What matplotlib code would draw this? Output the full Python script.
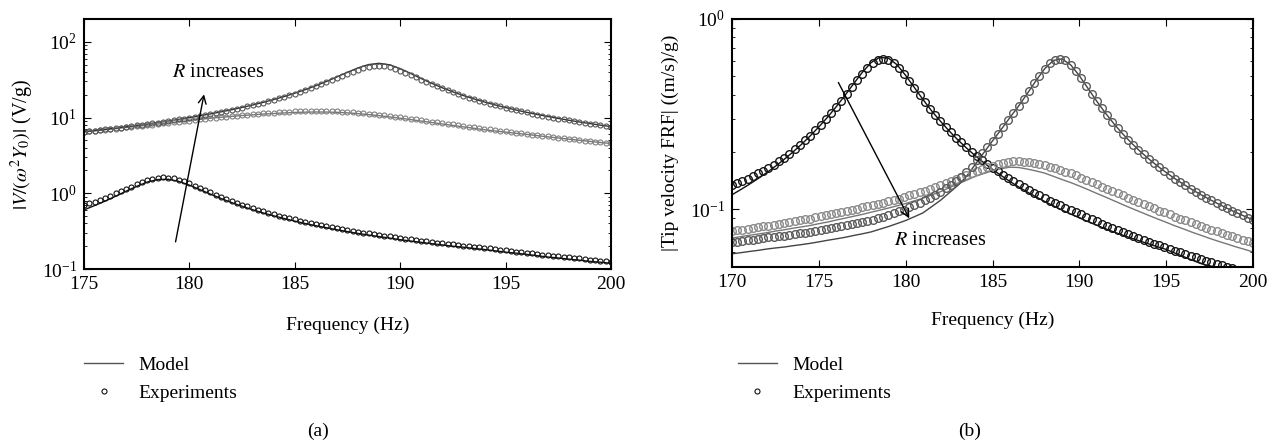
import numpy as np
import matplotlib
matplotlib.use('Agg')
import matplotlib.pyplot as plt
from matplotlib.lines import Line2D

plt.rcParams['font.family'] = ['Liberation Serif', 'DejaVu Serif']
plt.rcParams['mathtext.fontset'] = 'stix'
plt.rcParams['font.size'] = 14

# ---------------- panel (a) data ----------------
freq_a_exp = np.linspace(175, 200, 101)   # 0.25 Hz steps
freq_a_mod = np.linspace(175, 200, 51)    # 0.5 Hz steps

# lowest R
a_exp_r1 = [0.693, 0.733, 0.776, 0.823, 0.876, 0.934, 0.998, 1.069, 1.146, 1.227,
            1.313, 1.399, 1.480, 1.549, 1.598, 1.619, 1.610, 1.571, 1.510, 1.432,
            1.348, 1.262, 1.178, 1.099, 1.026, 0.959, 0.899, 0.844, 0.794, 0.749,
            0.709, 0.672, 0.638, 0.607, 0.579, 0.554, 0.530, 0.508, 0.488, 0.469,
            0.452, 0.435, 0.420, 0.406, 0.393, 0.380, 0.369, 0.358, 0.347, 0.338,
            0.328, 0.319, 0.311, 0.303, 0.296, 0.288, 0.282, 0.275, 0.269, 0.263,
            0.257, 0.252, 0.246, 0.241, 0.237, 0.232, 0.227, 0.223, 0.219, 0.215,
            0.211, 0.207, 0.204, 0.200, 0.197, 0.194, 0.191, 0.187, 0.183, 0.180,
            0.176, 0.173, 0.170, 0.167, 0.164, 0.161, 0.158, 0.155, 0.152, 0.150,
            0.147, 0.145, 0.142, 0.140, 0.138, 0.135, 0.133, 0.131, 0.129, 0.127,
            0.125]
a_mod_r1 = [0.603, 0.687, 0.788, 0.913, 1.066, 1.234, 1.406, 1.518, 1.530, 1.435,
            1.281, 1.119, 0.975, 0.854, 0.754, 0.674, 0.606, 0.550, 0.504, 0.464,
            0.429, 0.399, 0.373, 0.351, 0.330, 0.312, 0.295, 0.281, 0.268, 0.256,
            0.244, 0.234, 0.225, 0.216, 0.208, 0.200, 0.194, 0.187, 0.181, 0.174,
            0.167, 0.162, 0.156, 0.150, 0.144, 0.140, 0.135, 0.131, 0.126, 0.123,
            0.119]

# middle R
a_exp_r2 = [6.47, 6.57, 6.68, 6.79, 6.90, 7.02, 7.14, 7.26, 7.39, 7.52,
            7.65, 7.78, 7.92, 8.06, 8.21, 8.35, 8.50, 8.66, 8.81, 8.97,
            9.13, 9.30, 9.46, 9.63, 9.79, 9.96, 10.13, 10.30, 10.46, 10.63,
            10.79, 10.94, 11.09, 11.24, 11.38, 11.52, 11.64, 11.75, 11.86, 11.95,
            12.02, 12.09, 12.14, 12.18, 12.20, 12.20, 12.18, 12.14, 12.08, 11.99,
            11.88, 11.76, 11.61, 11.46, 11.28, 11.10, 10.91, 10.71, 10.51, 10.30,
            10.10, 9.89, 9.68, 9.47, 9.26, 9.06, 8.86, 8.67, 8.47, 8.29,
            8.11, 7.93, 7.76, 7.59, 7.43, 7.27, 7.11, 6.97, 6.82, 6.68,
            6.55, 6.42, 6.29, 6.17, 6.05, 5.94, 5.83, 5.72, 5.62, 5.52,
            5.42, 5.32, 5.23, 5.14, 5.06, 4.97, 4.89, 4.81, 4.73, 4.66,
            4.59]
a_mod_r2 = [6.47, 6.68, 6.90, 7.14, 7.39, 7.65, 7.92, 8.21, 8.50, 8.81,
            9.13, 9.46, 9.79, 10.08, 10.36, 10.63, 10.87, 11.10, 11.29, 11.50,
            11.66, 11.78, 11.83, 11.81, 11.72, 11.52, 11.26, 10.94, 10.58, 10.19,
            9.80, 9.39, 8.98, 8.59, 8.22, 7.87, 7.53, 7.21, 6.90, 6.65,
            6.42, 6.20, 5.99, 5.77, 5.56, 5.37, 5.18, 5.01, 4.84, 4.68,
            4.54]

# highest R
a_exp_r3 = [6.48, 6.59, 6.71, 6.84, 6.97, 7.10, 7.24, 7.38, 7.53, 7.69,
            7.85, 8.02, 8.20, 8.38, 8.58, 8.78, 8.99, 9.21, 9.45, 9.69,
            9.95, 10.22, 10.51, 10.81, 11.13, 11.47, 11.83, 12.21, 12.62, 13.05,
            13.51, 14.01, 14.54, 15.11, 15.72, 16.39, 17.11, 17.88, 18.73, 19.65,
            20.65, 21.76, 22.97, 24.29, 25.75, 27.35, 29.11, 31.03, 33.13, 35.37,
            37.74, 40.13, 42.52, 44.65, 46.43, 47.59, 48.00, 47.52, 46.16, 44.14,
            41.71, 39.10, 36.49, 33.99, 31.66, 29.52, 27.58, 25.82, 24.24, 22.81,
            21.52, 20.35, 19.29, 18.32, 17.44, 16.64, 15.90, 15.22, 14.59, 14.01,
            13.48, 12.98, 12.51, 12.08, 11.67, 11.29, 10.94, 10.60, 10.29, 9.99,
            9.71, 9.44, 9.19, 8.95, 8.72, 8.50, 8.30, 8.10, 7.91, 7.73,
            7.56]
a_mod_r3 = [6.49, 6.72, 6.98, 7.25, 7.55, 7.87, 8.22, 8.60, 9.01, 9.47,
            9.98, 10.54, 11.17, 11.88, 12.68, 13.59, 14.64, 15.85, 17.26, 18.94,
            20.94, 23.36, 26.31, 29.94, 34.35, 39.58, 45.21, 50.02, 52.00, 49.69,
            44.25, 38.16, 32.73, 28.28, 24.71, 21.84, 19.52, 17.61, 16.03, 14.69,
            13.55, 12.58, 11.72, 10.98, 10.32, 9.74, 9.21, 8.74, 8.32, 7.93,
            7.58]

# ---------------- panel (b) data ----------------
freq_b_exp = np.linspace(170, 200, 101)   # 0.3 Hz steps
freq_b_mod = np.linspace(170, 200, 61)    # 0.5 Hz steps

b_exp_r1 = [0.1336, 0.1371, 0.1409, 0.1450, 0.1495, 0.1544, 0.1597, 0.1656, 0.1719, 0.1790,
            0.1867, 0.1961, 0.2063, 0.2177, 0.2302, 0.2442, 0.2598, 0.2773, 0.2969, 0.3189,
            0.3439, 0.3719, 0.4034, 0.4384, 0.4762, 0.5158, 0.5546, 0.5882, 0.6116, 0.6200,
            0.6111, 0.5865, 0.5514, 0.5113, 0.4707, 0.4322, 0.3969, 0.3653, 0.3372, 0.3124,
            0.2905, 0.2711, 0.2538, 0.2385, 0.2247, 0.2124, 0.2012, 0.1911, 0.1820, 0.1736,
            0.1659, 0.1589, 0.1524, 0.1464, 0.1409, 0.1357, 0.1309, 0.1265, 0.1223, 0.1183,
            0.1147, 0.1112, 0.1079, 0.1048, 0.1019, 0.0992, 0.0966, 0.0940, 0.0913, 0.0889,
            0.0865, 0.0842, 0.0820, 0.0799, 0.0780, 0.0761, 0.0742, 0.0725, 0.0708, 0.0692,
            0.0676, 0.0661, 0.0647, 0.0633, 0.0620, 0.0607, 0.0595, 0.0583, 0.0571, 0.0560,
            0.0549, 0.0538, 0.0528, 0.0518, 0.0509, 0.0499, 0.0490, 0.0482, 0.0473, 0.0465,
            0.0457]
b_mod_r1 = [0.1193, 0.1270, 0.1355, 0.1451, 0.1560, 0.1685, 0.1830, 0.1998, 0.2195, 0.2430,
            0.2712, 0.3048, 0.3460, 0.3965, 0.4568, 0.5241, 0.5894, 0.6286, 0.6233, 0.5752,
            0.5052, 0.4365, 0.3773, 0.3286, 0.2905, 0.2584, 0.2319, 0.2101, 0.1915, 0.1757,
            0.1622, 0.1505, 0.1402, 0.1313, 0.1234, 0.1164, 0.1101, 0.1044, 0.0992, 0.0945,
            0.0902, 0.0862, 0.0825, 0.0792, 0.0760, 0.0732, 0.0706, 0.0681, 0.0658, 0.0636,
            0.0616, 0.0589, 0.0565, 0.0541, 0.0519, 0.0504, 0.0489, 0.0475, 0.0462, 0.0449,
            0.0437]

b_exp_r2 = [0.0769, 0.0776, 0.0783, 0.0793, 0.0800, 0.0807, 0.0815, 0.0822, 0.0832, 0.0839,
            0.0849, 0.0857, 0.0867, 0.0875, 0.0885, 0.0895, 0.0908, 0.0918, 0.0931, 0.0942,
            0.0955, 0.0968, 0.0982, 0.0995, 0.1009, 0.1023, 0.1038, 0.1054, 0.1072, 0.1086,
            0.1104, 0.1122, 0.1140, 0.1161, 0.1183, 0.1205, 0.1227, 0.1253, 0.1285, 0.1315,
            0.1346, 0.1380, 0.1413, 0.1449, 0.1483, 0.1521, 0.1560, 0.1596, 0.1629, 0.1663,
            0.1698, 0.1722, 0.1750, 0.1778, 0.1795, 0.1795, 0.1782, 0.1766, 0.1750, 0.1726,
            0.1710, 0.1679, 0.1644, 0.1614, 0.1581, 0.1545, 0.1507, 0.1469, 0.1429, 0.1393,
            0.1355, 0.1318, 0.1285, 0.1250, 0.1216, 0.1183, 0.1153, 0.1122, 0.1094, 0.1064,
            0.1038, 0.1012, 0.0986, 0.0964, 0.0940, 0.0916, 0.0895, 0.0875, 0.0855, 0.0836,
            0.0817, 0.0800, 0.0782, 0.0766, 0.0750, 0.0735, 0.0721, 0.0706, 0.0693, 0.0679,
            0.0667]
b_mod_r2 = [0.0707, 0.0719, 0.0731, 0.0742, 0.0754, 0.0769, 0.0781, 0.0796, 0.0809, 0.0823,
            0.0841, 0.0858, 0.0879, 0.0899, 0.0920, 0.0941, 0.0966, 0.0990, 0.1016, 0.1044,
            0.1074, 0.1109, 0.1145, 0.1190, 0.1238, 0.1298, 0.1357, 0.1422, 0.1490, 0.1543,
            0.1596, 0.1636, 0.1666, 0.1660, 0.1628, 0.1592, 0.1551, 0.1492, 0.1435, 0.1383,
            0.1327, 0.1270, 0.1213, 0.1161, 0.1109, 0.1059, 0.1013, 0.0970, 0.0929, 0.0891,
            0.0855, 0.0820, 0.0789, 0.0758, 0.0731, 0.0704, 0.0680, 0.0658, 0.0636, 0.0617,
            0.0597]

b_exp_r3 = [0.0671, 0.0678, 0.0682, 0.0689, 0.0693, 0.0700, 0.0706, 0.0713, 0.0719, 0.0724,
            0.0729, 0.0736, 0.0741, 0.0748, 0.0755, 0.0762, 0.0771, 0.0780, 0.0787, 0.0796,
            0.0805, 0.0815, 0.0824, 0.0834, 0.0845, 0.0855, 0.0867, 0.0881, 0.0897, 0.0916,
            0.0933, 0.0955, 0.0975, 0.0998, 0.1023, 0.1052, 0.1081, 0.1114, 0.1153, 0.1194,
            0.1236, 0.1291, 0.1349, 0.1409, 0.1483, 0.1567, 0.1679, 0.1824, 0.1968, 0.2123,
            0.2291, 0.2489, 0.2710, 0.2951, 0.3205, 0.3490, 0.3815, 0.4184, 0.4595, 0.5034,
            0.5476, 0.5863, 0.6126, 0.6197, 0.6057, 0.5744, 0.5331, 0.4886, 0.4453, 0.4056,
            0.3701, 0.3390, 0.3118, 0.2880, 0.2672, 0.2489, 0.2328, 0.2184, 0.2057, 0.1942,
            0.1840, 0.1747, 0.1662, 0.1585, 0.1515, 0.1450, 0.1391, 0.1336, 0.1285, 0.1238,
            0.1194, 0.1154, 0.1115, 0.1079, 0.1046, 0.1014, 0.0984, 0.0956, 0.0930, 0.0905,
            0.0881]
b_mod_r3 = [0.0584, 0.0592, 0.0601, 0.0609, 0.0619, 0.0627, 0.0634, 0.0644, 0.0653, 0.0663,
            0.0675, 0.0688, 0.0700, 0.0713, 0.0729, 0.0744, 0.0761, 0.0786, 0.0812, 0.0842,
            0.0874, 0.0915, 0.0959, 0.1034, 0.1115, 0.1220, 0.1336, 0.1490, 0.1720, 0.1986,
            0.2291, 0.2630, 0.3035, 0.3490, 0.4056, 0.4739, 0.5476, 0.6057, 0.6173, 0.5744,
            0.5034, 0.4316, 0.3701, 0.3205, 0.2808, 0.2489, 0.2230, 0.2017, 0.1840, 0.1689,
            0.1561, 0.1450, 0.1354, 0.1269, 0.1194, 0.1128, 0.1068, 0.1014, 0.0965, 0.0921,
            0.0881]

legend_labels = ['Model', 'Experiments']

fig = plt.figure(figsize=(12.84, 4.47), dpi=100)
ax_a = fig.add_axes([0.0654, 0.3982, 0.4104, 0.5593])
ax_b = fig.add_axes([0.5701, 0.4034, 0.4058, 0.5541])


def style_axes(ax):
    ax.set_yscale('log')
    ax.tick_params(which='both', direction='in', top=True, right=True, labelsize=14)
    ax.tick_params(which='major', length=5, width=0.8, pad=5)
    ax.tick_params(which='minor', length=2.5, width=0.6)
    for s in ax.spines.values():
        s.set_linewidth(1.5)


# panel (a)
ax_a.plot(freq_a_mod, a_mod_r1, color='#111111', lw=1.0)
ax_a.plot(freq_a_mod, a_mod_r2, color='#777777', lw=1.0)
ax_a.plot(freq_a_mod, a_mod_r3, color='#333333', lw=1.0)
ax_a.plot(freq_a_exp, a_exp_r1, ls='none', marker='o', ms=3.6, mfc='none', mec='#111111', mew=0.8)
ax_a.plot(freq_a_exp, a_exp_r2, ls='none', marker='o', ms=3.6, mfc='none', mec='#808080', mew=0.8)
ax_a.plot(freq_a_exp, a_exp_r3, ls='none', marker='o', ms=3.6, mfc='none', mec='#555555', mew=0.8)
style_axes(ax_a)
ax_a.set_xlim(175, 200)
ax_a.set_ylim(0.1, 200)
ax_a.set_xticks([175, 180, 185, 190, 195, 200])
ax_a.set_xlabel('Frequency (Hz)', fontsize=14, labelpad=17)
ax_a.set_ylabel(r'$|V/(\omega^2Y_0)|$ (V/g)', fontsize=14.5, labelpad=4)
ax_a.annotate('', xy=(180.72, 22), xytext=(179.32, 0.21),
              arrowprops=dict(arrowstyle='->', lw=1.0, color='black'))
ax_a.text(179.17, 39, r'$R$ increases', fontsize=14.5, ha='left', va='center')

# panel (b)
ax_b.plot(freq_b_mod, b_mod_r1, color='#111111', lw=1.0)
ax_b.plot(freq_b_mod, b_mod_r2, color='#777777', lw=1.0)
ax_b.plot(freq_b_mod, b_mod_r3, color='#444444', lw=1.0)
ax_b.plot(freq_b_exp, b_exp_r1, ls='none', marker='o', ms=5.5, mfc='none', mec='#151515', mew=1.0)
ax_b.plot(freq_b_exp, b_exp_r2, ls='none', marker='o', ms=5.5, mfc='none', mec='#8a8a8a', mew=1.0)
ax_b.plot(freq_b_exp, b_exp_r3, ls='none', marker='o', ms=5.5, mfc='none', mec='#5a5a5a', mew=1.0)
style_axes(ax_b)
ax_b.set_xlim(170, 200)
ax_b.set_ylim(0.05, 1)
ax_b.set_xticks([170, 175, 180, 185, 190, 195, 200])
ax_b.set_xlabel('Frequency (Hz)', fontsize=14, labelpad=15)
ax_b.set_ylabel('|Tip velocity FRF| ((m/s)/g)', fontsize=14, labelpad=8)
ax_b.annotate('', xy=(180.28, 0.087), xytext=(176.05, 0.478),
              arrowprops=dict(arrowstyle='->', lw=1.0, color='black'))
ax_b.text(179.3, 0.069, r'$R$ increases', fontsize=14.5, ha='left', va='center')

# legends below each panel
for ax, x0 in [(ax_a, 0.058), (ax_b, 0.567)]:
    handles = [Line2D([], [], color='#555555', lw=1.0),
               Line2D([], [], ls='none', marker='o', ms=3.6, mfc='none', mec='#111111', mew=0.8)]
    ax.legend(handles, legend_labels, loc='upper left', bbox_to_anchor=(x0, 0.225),
              bbox_transform=fig.transFigure, frameon=False, fontsize=14,
              handlelength=2.0, handletextpad=0.8, labelspacing=0.55, borderpad=0)

fig.text(0.248, 0.036, '(a)', fontsize=14, ha='center', va='center')
fig.text(0.755, 0.036, '(b)', fontsize=14, ha='center', va='center')

fig.savefig('out.png', dpi=100)
